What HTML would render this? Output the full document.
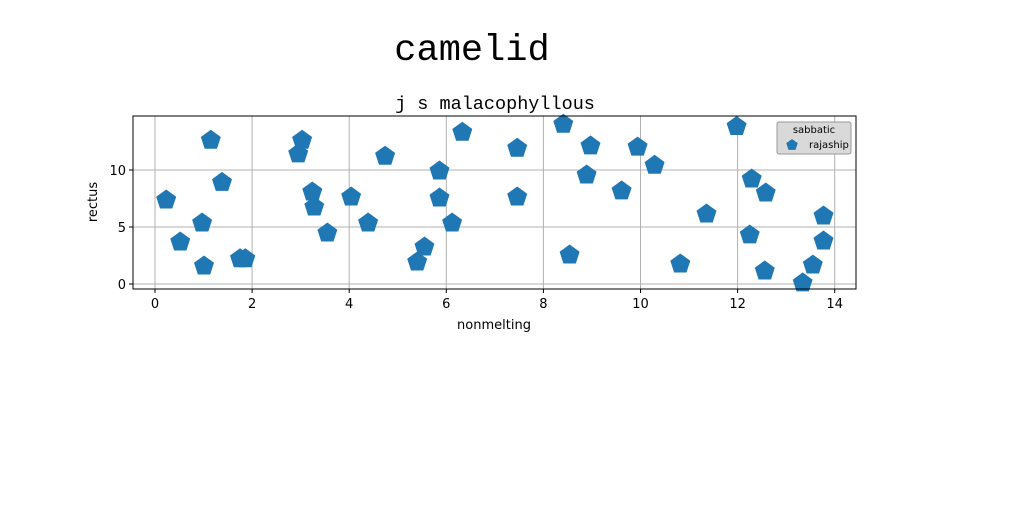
<!DOCTYPE html>
<html><head><meta charset="utf-8"><style>
body{margin:0;background:#fff;width:1024px;height:512px;overflow:hidden}
svg text{font-family:"DejaVu Sans","Liberation Sans",sans-serif}
</style></head><body>
<svg id="c" width="1024" height="512">
<text x="472" y="60" font-size="37" text-anchor="middle" style="font-family:'Liberation Mono',monospace">camelid</text>
<text x="495" y="109" font-size="18.5" text-anchor="middle" style="font-family:'Liberation Mono',monospace">j s malacophyllous</text>
<g id="grid"></g><g id="marks"></g>
<rect x="133" y="116" width="723" height="173" fill="none" stroke="#000" stroke-width="1"/>
<g id="ticks"></g>
<text x="494" y="329" font-size="13" text-anchor="middle">nonmelting</text>
<text x="97" y="202" font-size="13" text-anchor="middle" transform="rotate(-90 97 202)">rectus</text>
<g>
<rect x="777" y="122" width="74" height="32" rx="2" fill="#d9d9d9" stroke="#999"/>
<text x="814" y="133" font-size="10" text-anchor="middle">sabbatic</text>
<path id="legmark" fill="#1f77b4"/>
<text x="809" y="148" font-size="10">rajaship</text>
</g>
</svg>
<script>
const xs=[0.23,0.52,0.97,1.01,1.15,1.38,1.75,1.86,2.95,3.03,3.24,3.28,3.55,4.04,4.39,4.74,5.40,5.55,5.86,5.86,6.12,6.33,7.46,7.46,8.41,8.54,8.89,8.97,9.61,9.94,10.29,10.82,11.36,11.98,12.25,12.29,12.58,12.56,13.34,13.55,13.77,13.77];
const ys=[7.46,3.77,5.44,1.67,12.7,9.0,2.3,2.3,11.5,12.7,8.16,6.84,4.56,7.72,5.44,11.3,2.02,3.33,10.0,7.63,5.44,13.4,12.0,7.72,14.1,2.63,9.65,12.2,8.25,12.1,10.5,1.84,6.23,13.9,4.39,9.3,8.07,1.23,0.18,1.75,3.86,6.05];
const xTicks=[0,2,4,6,8,10,12,14];
const yTicks=[0,5,10];
const X=v=>155+v*48.55, Y=v=>284-v*11.4;
const NS="http://www.w3.org/2000/svg";
function pent(cx,cy,r){let p=[];for(let i=0;i<5;i++){const a=-Math.PI/2+i*2*Math.PI/5;p.push((cx+r*Math.cos(a)).toFixed(1)+","+(cy+r*Math.sin(a)).toFixed(1));}return "M"+p.join("L")+"Z";}
const g=document.getElementById('grid'),t=document.getElementById('ticks'),m=document.getElementById('marks');
xTicks.forEach(v=>{const x=X(v);
const l=document.createElementNS(NS,'line');l.setAttribute('x1',x);l.setAttribute('x2',x);l.setAttribute('y1',116);l.setAttribute('y2',289);l.setAttribute('stroke','#b0b0b0');

g.appendChild(l);
const k=document.createElementNS(NS,'line');k.setAttribute('x1',x);k.setAttribute('x2',x);k.setAttribute('y1',289);k.setAttribute('y2',293);k.setAttribute('stroke','#000');

t.appendChild(k);
const s=document.createElementNS(NS,'text');s.setAttribute('x',x);s.setAttribute('y',308);s.setAttribute('font-size','13');s.setAttribute('text-anchor','middle');s.textContent=v;

t.appendChild(s);});
yTicks.forEach(v=>{const y=Y(v);
const l=document.createElementNS(NS,'line');l.setAttribute('x1',133);l.setAttribute('x2',856);l.setAttribute('y1',y);l.setAttribute('y2',y);l.setAttribute('stroke','#b0b0b0');

g.appendChild(l);
const k=document.createElementNS(NS,'line');k.setAttribute('x1',129);k.setAttribute('x2',133);k.setAttribute('y1',y);k.setAttribute('y2',y);k.setAttribute('stroke','#000');

t.appendChild(k);
const s=document.createElementNS(NS,'text');s.setAttribute('x',126);s.setAttribute('y',y+5);s.setAttribute('font-size','13');s.setAttribute('text-anchor','end');s.textContent=v;

t.appendChild(s);});
xs.forEach((v,i)=>{const p=document.createElementNS(NS,'path');p.setAttribute('d',pent(X(v),Y(ys[i])+1,10.5));p.setAttribute('fill','#1f77b4');

m.appendChild(p);});
document.getElementById('legmark').setAttribute('d',pent(792,145,6));
</script>
</body></html>
